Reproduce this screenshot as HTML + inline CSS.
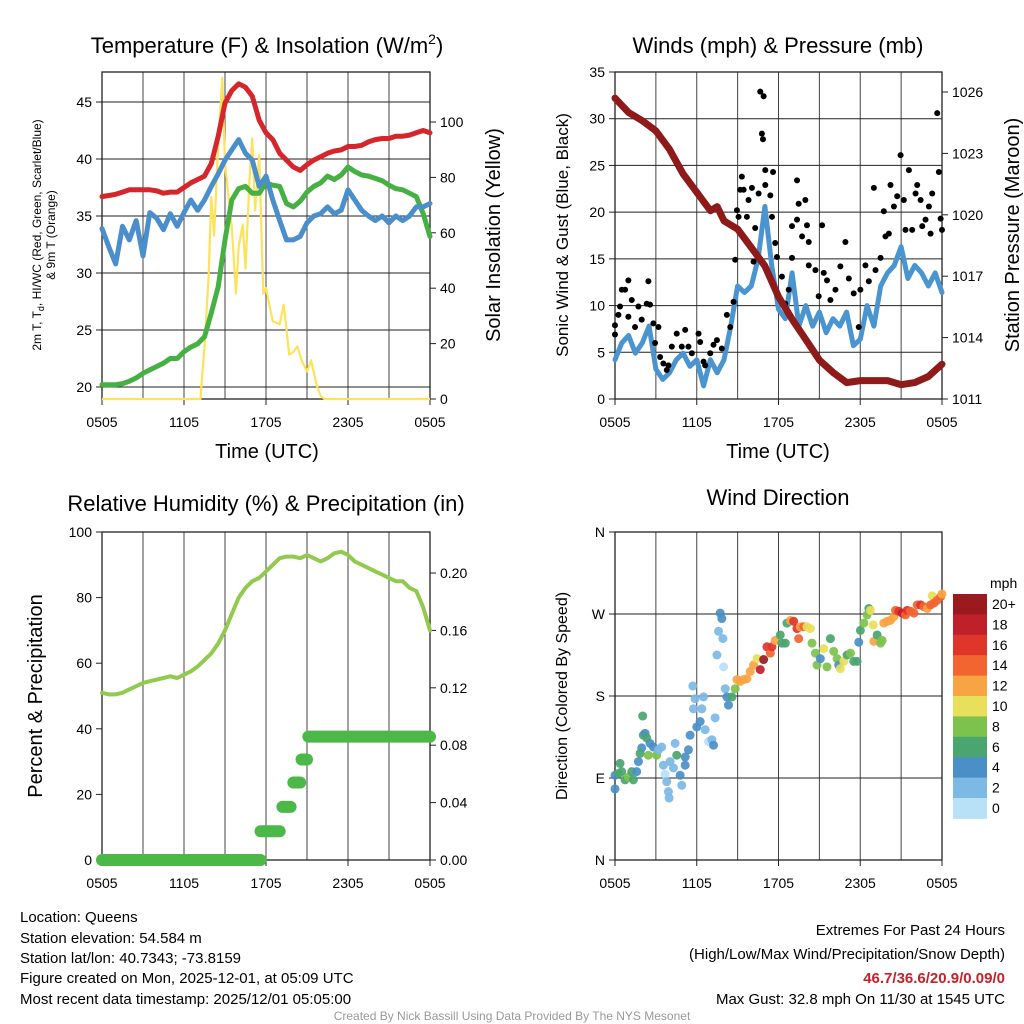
<!DOCTYPE html>
<html><head><meta charset="utf-8">
<style>
html,body{margin:0;padding:0;background:#fff;}
svg{display:block;font-family:"Liberation Sans",Arial,sans-serif;}
</style></head>
<body>
<svg id="chart" width="1024" height="1024" viewBox="0 0 1024 1024" xmlns="http://www.w3.org/2000/svg">
<rect x="0" y="0" width="1024" height="1024" fill="#fff"/>
<text x="267" y="53" font-size="22" text-anchor="middle">Temperature (F) &amp; Insolation (W/m<tspan dy="-9" font-size="14">2</tspan><tspan dy="9">)</tspan></text>
<text x="778" y="53" font-size="22" text-anchor="middle">Winds (mph) &amp; Pressure (mb)</text>
<text x="266" y="511" font-size="22" text-anchor="middle">Relative Humidity (%) &amp; Precipitation (in)</text>
<text x="778" y="505" font-size="22" text-anchor="middle">Wind Direction</text>

<text font-size="12" text-anchor="middle" transform="translate(41,235) rotate(-90)">2m T, T<tspan dy="3" font-size="9">d</tspan><tspan dy="-3">, HI/WC (Red, Green, Scarlet/Blue)</tspan></text>
<text font-size="12" text-anchor="middle" transform="translate(55,235) rotate(-90)">&amp; 9m T (Orange)</text>
<text font-size="20" text-anchor="middle" transform="translate(500,235) rotate(-90)">Solar Insolation (Yellow)</text>
<text font-size="17" text-anchor="middle" transform="translate(568,235) rotate(-90)">Sonic Wind &amp; Gust (Blue, Black)</text>
<text font-size="20" text-anchor="middle" transform="translate(1019,235) rotate(-90)">Station Pressure (Maroon)</text>
<text font-size="20" text-anchor="middle" transform="translate(42,696) rotate(-90)">Percent &amp; Precipitation</text>
<text font-size="16" text-anchor="middle" transform="translate(567,696) rotate(-90)">Direction (Colored By Speed)</text>
<text x="267" y="458" font-size="20" text-anchor="middle">Time (UTC)</text>
<text x="778" y="458" font-size="20" text-anchor="middle">Time (UTC)</text>

<g font-size="15">
<text x="20" y="922">Location: Queens</text>
<text x="20" y="943">Station elevation: 54.584 m</text>
<text x="20" y="963">Station lat/lon: 40.7343; -73.8159</text>
<text x="20" y="983">Figure created on Mon, 2025-12-01, at 05:09 UTC</text>
<text x="20" y="1004">Most recent data timestamp: 2025/12/01 05:05:00</text>
</g>
<g font-size="15" text-anchor="end">
<text x="1005" y="935">Extremes For Past 24 Hours</text>
<text x="1005" y="959">(High/Low/Max Wind/Precipitation/Snow Depth)</text>
<text x="1005" y="983" fill="#c8202a" font-weight="bold">46.7/36.6/20.9/0.09/0</text>
<text x="1005" y="1004">Max Gust: 32.8 mph On 11/30 at 1545 UTC</text>
</g>
<text x="512" y="1020" font-size="12" fill="#999" text-anchor="middle">Created By Nick Bassill Using Data Provided By The NYS Mesonet</text>
<g id="layer"></g>
</svg>
<script>
// ---- data ----
const xTickLabels = ["0505","1105","1705","2305","0505"];
const halfHours = [0,0.5,1,1.5,2,2.5,3,3.5,4,4.5,5,5.5,6,6.5,7,7.5,8,8.5,9,9.5,10,10.5,11,11.5,12,12.5,13,13.5,14,14.5,15,15.5,16,16.5,17,17.5,18,18.5,19,19.5,20,20.5,21,21.5,22,22.5,23,23.5,24];
const tempVals = [36.7,36.8,36.9,37.1,37.3,37.3,37.3,37.3,37.2,37.0,37.1,37.1,37.5,37.9,38.2,38.5,39.6,42,44.9,46,46.6,46.3,45.5,43.4,42.3,41.7,40.5,39.9,39.3,39.0,39.5,39.9,40.2,40.5,40.7,40.8,41.1,41.1,41.2,41.5,41.7,41.8,41.8,42,42,42.1,42.3,42.5,42.3];
const dewVals = [20.2,20.2,20.2,20.3,20.5,20.8,21.2,21.5,21.8,22.1,22.5,22.5,23.1,23.5,23.8,24.4,26.5,28.8,32.9,36.4,37.4,37.6,37.0,37.0,37.9,37.7,37.6,36.1,35.8,36.3,37.1,37.6,37.9,38.5,38.2,38.6,39.3,38.9,38.6,38.5,38.3,38.1,37.7,37.4,37.3,37.0,36.7,35.2,33.2];
const chillVals = [33.9,32.3,30.8,34.1,32.9,34.6,31.5,35.3,34.8,33.8,35.2,34.1,35.3,36.4,35.5,36.4,37.6,38.7,39.9,40.8,41.7,40.5,39.9,37.6,38.5,36.4,34.6,32.9,32.9,33.2,34.4,35.0,35.2,35.8,35.2,35.5,37.3,36.4,35.5,35.0,34.6,35.0,34.4,35.0,34.6,35.0,35.8,35.8,36.1];
const solarHours = [0,7.2,7.5,7.8,8,8.2,8.5,8.8,9,9.3,9.5,9.8,10,10.3,10.5,10.8,11,11.2,11.5,11.8,12,12.5,13,13.3,13.7,14,14.3,14.6,15,15.3,15.7,16,16.3,24];
const solarVals = [0,0,19,44,73,59,92,116,85,71,62,38,55,63,47,80,94,68,88,38,40,28,27,34,16,17,19,14,10,14,5,1,0,0];
const windVals = [4.2,6.0,6.8,4.9,6.0,7.8,3.2,2.1,2.8,4.2,4.9,3.5,4.2,1.4,4.2,2.8,4.2,7.8,12.1,11.4,12.1,15,20.6,14.3,9.6,8.6,13.5,7.8,10,7.8,9.3,7.1,8.6,7.8,9.3,5.7,6.4,10,7.8,12.1,13.5,14.3,16.3,12.9,14.3,13.5,12.1,13.5,11.4];
const pressHours = [0,1,2,3,4,5,6,7,7.5,8,9,10,11,12,13,14,15,16,17,18,19,20,21,22,23,24];
const pressVals = [1025.7,1025.0,1024.6,1024.1,1023.2,1022.0,1021.1,1020.2,1020.4,1019.7,1019.3,1018.4,1017.5,1016.0,1014.9,1013.9,1012.9,1012.3,1011.8,1011.9,1011.9,1011.9,1011.7,1011.8,1012.1,1012.7];
const gustHours = [0,0,0.25,0.37,0.5,0.74,0.98,0.98,1.23,1.47,1.72,1.96,2.33,2.45,2.57,2.82,2.94,3.19,3.31,3.55,3.8,3.92,4.17,4.53,4.9,5.15,5.39,5.64,6.13,6.25,6.5,6.62,6.99,7.23,7.48,7.84,8.21,8.46,8.7,8.82,8.95,9.07,9.19,9.31,9.44,9.68,9.8,10.05,10.17,10.29,10.54,10.66,10.78,10.86,10.91,11.03,11.03,11.4,11.52,11.6,11.76,11.89,12.25,12.5,12.75,12.99,12.99,13.36,13.36,13.48,13.73,13.97,14.09,14.22,14.22,14.71,14.95,15.2,15.32,15.56,15.81,16.18,16.54,16.91,17.16,17.52,17.89,18.01,18.38,18.63,19.0,19.12,19.49,19.73,19.85,20.1,20.22,20.47,20.71,20.96,21.2,21.32,21.57,21.81,22.06,22.18,22.43,22.55,22.79,23.04,23.16,23.28,23.65,23.77,23.9,24.0];
const gustVals = [7.9,6.9,9.0,9.9,11.7,11.7,12.7,8.8,10.6,7.7,9.9,8.5,10.2,12.6,10.1,8.1,6.0,7.7,4.5,3.8,3.1,3.6,5.6,7.0,5.6,7.4,5.6,4.9,7.0,6.1,4.0,3.6,4.9,5.8,6.3,5.4,9.0,7.7,10.4,14.9,20.2,19.5,22.4,23.8,22.4,19.5,21.3,22.6,14.7,18.3,22.0,32.9,28.4,27.8,32.4,24.5,22.9,21.8,19.5,24.3,16.7,15.2,13.1,10.2,11.7,18.5,15.1,23.4,19.2,20.9,17.4,21.3,18.6,16.8,14.3,13.8,11.0,18.6,13.5,12.7,10.6,11.7,14.2,16.8,12.9,11.3,7.7,11.7,14.3,12.6,22.6,13.8,15.1,20.1,17.4,17.7,22.9,20.6,21.7,26.1,21.3,18.1,24.5,18.1,22.0,22.9,21.3,18.5,19.2,20.6,17.7,22.0,30.6,24.3,19.3,18.1];
const rhVals = [51,50.5,50.5,51,52,53,54,54.5,55,55.5,56,55.5,56.5,57.5,59,61,63,66,70,75,80,83,85,86,88,90,92,92.5,92.5,92,93,92,91,92,93.5,94,93,91,90,89,88,87,86,85,85,83,82,77,70];
const precipStart = [0,11.6,13.2,14.0,14.6,15.1];
const precipEnd = [11.6,13.0,13.8,14.5,15.0,24];
const precipVals = [0,0.02,0.037,0.054,0.07,0.086];
const dirHours = [0,0,0.25,0.37,0.49,0.74,0.98,1.23,1.35,1.59,1.72,1.96,1.84,2.08,2.21,2.03,2.33,2.45,2.57,2.82,3.06,3.19,3.43,3.55,3.68,3.8,3.92,3.97,4.04,4.29,4.41,4.53,4.78,4.9,5.15,5.15,5.39,5.51,5.76,5.71,5.88,6.0,6.25,6.37,6.5,6.62,6.86,7.11,7.23,7.35,7.48,7.6,7.72,7.84,7.92,7.97,8.09,8.21,8.33,8.58,8.82,8.95,9.19,9.44,9.68,9.93,10.17,10.42,10.66,10.91,11.15,11.4,11.52,11.76,12.13,12.25,12.5,12.62,12.87,13.11,13.36,13.48,13.6,13.85,14.09,14.34,14.46,14.71,14.83,15.07,15.32,15.56,15.81,16.05,16.3,16.42,16.54,16.79,17.03,17.28,17.52,17.77,17.89,18.01,18.26,18.5,18.63,18.75,18.95,19.0,19.24,19.49,19.61,19.73,19.98,20.22,20.47,20.59,20.83,21.08,21.32,21.45,21.69,21.94,22.18,22.43,22.67,22.92,23.16,23.28,23.41,23.65,23.9,24];
const dirDeg = [78,93,95,106,97,88,91,97,88,97,108,123,117,137,139,158,134,115,128,124,115,121,124,104,94,86,75,68,108,101,128,115,93,82,104,113,121,137,166,191,177,146,152,166,179,143,130,132,126,156,225,251,271,265,243,212,188,179,170,179,188,198,196,198,199,207,214,221,209,220,234,227,234,241,247,238,238,260,263,262,254,243,256,256,256,254,238,227,214,221,232,212,243,229,221,214,210,218,225,227,218,218,239,252,260,269,276,274,258,240,247,238,241,260,262,263,267,274,273,271,269,274,273,271,280,280,278,276,280,290,282,285,289,292];
const dirSpeed = [4,4,6,6,6,6,8,6,6,4,4,4,6,6,4,6,6,8,4,4,8,2,2,2,0,2,2,2,2,2,2,6,4,2,4,4,4,4,2,2,2,4,4,2,2,2,0,2,4,2,2,2,4,4,2,0,2,4,4,6,8,12,12,12,12,12,12,10,18,20,16,14,16,12,6,6,6,6,12,16,16,14,12,14,10,10,8,8,8,4,10,8,6,8,8,4,10,10,6,8,6,6,4,6,8,8,6,10,10,12,6,8,8,12,12,12,12,14,16,18,14,16,14,14,14,16,14,12,14,10,14,14,14,12];
const cbarLabels = ["20+","18","16","14","12","10","8","6","4","2","0"];
const cbarColors = ["#9b1a1f","#c0202a","#e0352b","#f26530","#f9a443","#e8e05a","#7cc24d","#4aa56f","#4a8fc7","#7db9e5","#b8e1f7"];

// ---- helpers ----
const NS = "http://www.w3.org/2000/svg";
const layer = document.getElementById("layer");
function mk(tag, attrs, parent){ const e=document.createElementNS(NS,tag); for(const k in attrs) e.setAttribute(k,attrs[k]); (parent||layer).appendChild(e); return e; }
function lin(d0,d1,r0,r1){ return v => r0+(v-d0)/(d1-d0)*(r1-r0); }
function speedColor(s){ let i=Math.round(s/2); if(i>10)i=10; return cbarColors[10-i]; }
function pathFrom(xs, ys, fx, fy){ return xs.map((h,i)=>(i?"L":"M")+fx(h).toFixed(1)+","+fy(ys[i]).toFixed(1)).join(""); }

function frame(name, L, R, T, B, hGridVals, fy){
  const g = mk("g",{});
  
  
  const fx = lin(0,24,L,R);
  for(let h=3; h<24; h+=3){ mk("line",{x1:fx(h),x2:fx(h),y1:T,y2:B,stroke:"#444","stroke-width":1},g); }
  (hGridVals||[]).forEach(v=>mk("line",{x1:L,x2:R,y1:fy(v),y2:fy(v),stroke:"#222","stroke-width":1},g));
  mk("rect",{x:L,y:T,width:R-L,height:B-T,fill:"none",stroke:"#222","stroke-width":1.3},g);
  xTickLabels.forEach((t,i)=>{
    const x=fx(i*6);
    mk("line",{x1:x,x2:x,y1:B,y2:B+6,stroke:"#222"},g);
    const tx=mk("text",{x:x,y:B+28,"font-size":14,"text-anchor":"middle"},g); tx.textContent=t;
    
    
  });
  return fx;
}
function yTicks(vals, labels, fy, x, side, fs){
  vals.forEach((v,i)=>{
    const y=fy(v);
    mk("line",{x1:x,x2:x+(side<0?-6:6),y1:y,y2:y,stroke:"#222"});
    const t=mk("text",{x:x+(side<0?-10:10),y:y+5,"font-size":fs||14,"text-anchor":side<0?"end":"start"}); t.textContent=labels[i];
    
    
  });
}

// ---- panel 1: temperature ----
{
  const L=102,R=430,T=72,B=399;
  const fy=lin(20,45,387,102), fs=lin(0,100,399,122);
  const fx=frame("temp",L,R,T,B,[20,25,30,35,40,45],fy);
  yTicks([20,25,30,35,40,45],["20","25","30","35","40","45"],fy,L,-1);
  yTicks([0,20,40,60,80,100],["0","20","40","60","80","100"],fs,R,1);
  const s=mk("path",{d:pathFrom(solarHours,solarVals,fx,fs),fill:"none",stroke:"#fde25a","stroke-width":2.2,"stroke-linejoin":"round"});
  
  
  const d=mk("path",{d:pathFrom(halfHours,dewVals,fx,fy),fill:"none",stroke:"#46b142","stroke-width":5,"stroke-linejoin":"round","stroke-linecap":"round"});
  
  
  const c=mk("path",{d:pathFrom(halfHours,chillVals,fx,fy),fill:"none",stroke:"#4a8fcc","stroke-width":5,"stroke-linejoin":"round","stroke-linecap":"round"});
  
  
  const t=mk("path",{d:pathFrom(halfHours,tempVals,fx,fy),fill:"none",stroke:"#d7262b","stroke-width":5,"stroke-linejoin":"round","stroke-linecap":"round"});
  
  
}
// ---- panel 2: winds ----
{
  const L=615,R=942,T=72,B=399;
  const fy=lin(0,35,399,72), fp=lin(1011,1026,399,92);
  const fx=frame("wind",L,R,T,B,[5,10,15,20,25,30],fy);
  yTicks([0,5,10,15,20,25,30,35],["0","5","10","15","20","25","30","35"],fy,L,-1);
  yTicks([1011,1014,1017,1020,1023,1026],["1011","1014","1017","1020","1023","1026"],fp,R,1);
  const w=mk("path",{d:pathFrom(halfHours,windVals,fx,fy),fill:"none",stroke:"#4a95d0","stroke-width":5,"stroke-linejoin":"round","stroke-linecap":"round"});
  
  
  gustHours.forEach((h,i)=>{
    const p=mk("circle",{cx:fx(h),cy:fy(gustVals[i]),r:3,fill:"#000"});
    
    
  });
  const pr=mk("path",{d:pathFrom(pressHours,pressVals,fx,fp),fill:"none",stroke:"#8e1a1a","stroke-width":7,"stroke-linejoin":"round","stroke-linecap":"round"});
  
  
}
// ---- panel 3: RH ----
{
  const L=102,R=430,T=532,B=860;
  const fy=lin(0,100,860,532), fp=lin(0,0.2,860,573);
  const fx=frame("rh",L,R,T,B,[],fy);
  yTicks([0,20,40,60,80,100],["0","20","40","60","80","100"],fy,L,-1);
  yTicks([0,0.04,0.08,0.12,0.16,0.20],["0.00","0.04","0.08","0.12","0.16","0.20"],fp,R,1);
  precipVals.forEach((v,i)=>{
    const b=mk("line",{x1:fx(precipStart[i]),x2:fx(precipEnd[i]),y1:fp(v),y2:fp(v),stroke:"#4cb848","stroke-width":12,"stroke-linecap":"round"});
    
    
  });
  const r=mk("path",{d:pathFrom(halfHours,rhVals,fx,fy),fill:"none",stroke:"#92c94f","stroke-width":4,"stroke-linejoin":"round","stroke-linecap":"round"});
  
  
}
// ---- panel 4: direction ----
{
  const L=615,R=942,T=532,B=860;
  const fy=lin(0,360,860,532);
  const fx=frame("direction",L,R,T,B,[90,180,270],fy);
  yTicks([0,90,180,270,360],["N","E","S","W","N"],fy,L,-1);
  dirHours.forEach((h,i)=>{
    const p=mk("circle",{cx:fx(h),cy:fy(dirDeg[i]),r:4.5,fill:speedColor(dirSpeed[i]),"fill-opacity":0.92});
    
    
  });
  const cb=mk("g",{});
  
  
  const bh=20.4;
  cbarColors.forEach((c,i)=>{
    mk("rect",{x:953,y:594+i*bh,width:34,height:bh+0.5,fill:c},cb);
    const t=mk("text",{x:992,y:594+i*bh+15,"font-size":14},cb); t.textContent=cbarLabels[i];
  });
  const u=mk("text",{x:990,y:588,"font-size":14},cb); u.textContent="mph";
}
</script>
</body></html>
